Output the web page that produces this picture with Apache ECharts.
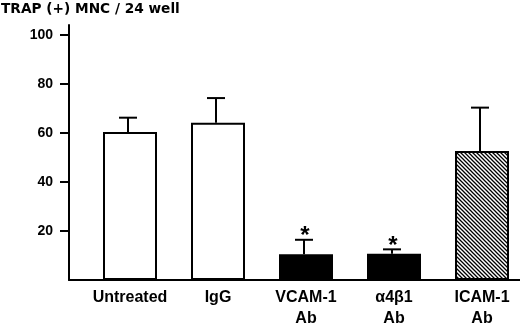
<!DOCTYPE html>
<html><head><meta charset="utf-8">
<script src="https://cdn.jsdelivr.net/npm/echarts@6/dist/echarts.min.js"></script>
<style>html,body{margin:0;padding:0;background:#fff}#c{width:520px;height:323px}</style>
</head><body><div id="c"></div>
<script>
const categories = ['Untreated', 'IgG', 'VCAM-1\nAb', 'α4β1\nAb', 'ICAM-1\nAb'];
const means = [60.4, 64.1, 10.5, 10.7, 52.6];
const errTops = [66.2, 74.2, 16.4, 12.5, 70.3];
const significant = [false, false, true, true, false];
const yTicks = [20, 40, 60, 80, 100];
const yTitle = 'TRAP (+) MNC / 24 well';

const FONT = 'Liberation Sans, Arial, sans-serif';
const TFONT = 'DejaVu Sans, sans-serif';

// hatch pattern
const pc = document.createElement('canvas'); pc.width = 4; pc.height = 4;
const g = pc.getContext('2d');
g.fillStyle = '#fff'; g.fillRect(0, 0, 4, 4);
g.strokeStyle = '#000'; g.lineWidth = 1.3;
g.beginPath(); g.moveTo(-1, -1); g.lineTo(5, 5);
g.moveTo(-1, 3); g.lineTo(1, 5);
g.moveTo(3, -1); g.lineTo(5, 1);
g.stroke();

function fillFor(i) {
  if (i < 2) return '#fff';
  if (i < 4) return '#000';
  return { image: pc, repeat: 'repeat' };
}

const chart = echarts.init(document.getElementById('c'), null, { renderer: 'canvas' });
chart.setOption({
  animation: false,
  backgroundColor: '#fff',
  title: {
    text: yTitle, left: 1, top: 2, padding: 0,
    textStyle: { fontSize: 13.7, fontWeight: 'bold', fontFamily: TFONT, color: '#000' }
  },
  grid: [
    { left: 69, right: 0, top: 25, bottom: 43, outerBoundsMode: 'none', containLabel: false },
    { left: 86, width: 440, top: 25, bottom: 43, outerBoundsMode: 'none', containLabel: false }
  ],
  xAxis: [
    { gridIndex: 0, type: 'value', min: 0, max: 1,
      axisLine: { show: true, lineStyle: { color: '#000', width: 2 } },
      axisTick: { show: false }, axisLabel: { show: false }, splitLine: { show: false } },
    { gridIndex: 1, type: 'category', data: categories,
      axisLine: { show: false }, axisTick: { show: false },
      axisLabel: { interval: 0, color: '#000', fontWeight: 'bold', fontSize: 16, fontFamily: FONT, lineHeight: 21, margin: 7 } }
  ],
  yAxis: [
    { gridIndex: 0, type: 'value', min: 0, max: 104, interval: 20,
      axisLine: { show: true, lineStyle: { color: '#000', width: 2 } },
      axisTick: { show: true, length: 9, customValues: yTicks, lineStyle: { color: '#000', width: 2 } },
      axisLabel: { customValues: yTicks, color: '#000', fontWeight: 'bold', fontSize: 14, fontFamily: FONT, margin: 16 },
      splitLine: { show: false } },
    { gridIndex: 1, type: 'value', min: 0, max: 104, show: false }
  ],
  series: [
    { type: 'bar', xAxisIndex: 1, yAxisIndex: 1, barWidth: 54,
      data: means.map((v, i) => ({ value: v, itemStyle: { color: fillFor(i), borderColor: '#000', borderWidth: 2 } })) },
    { type: 'custom', xAxisIndex: 1, yAxisIndex: 1, z: 3,
      data: categories.map((c, i) => [i, means[i], errTops[i], significant[i] ? 1 : 0]),
      renderItem: function (params, api) {
        const i = api.value(0);
        const base = api.coord([i, api.value(1)]);
        const top = api.coord([i, api.value(2)]);
        const x = base[0] - 2;
        const st = { stroke: '#000', lineWidth: 2 };
        const ch = [
          { type: 'line', shape: { x1: x, y1: base[1], x2: x, y2: top[1] }, style: st },
          { type: 'line', shape: { x1: x - 9, y1: top[1], x2: x + 9, y2: top[1] }, style: st }
        ];
        if (api.value(3)) {
          ch.push({ type: 'text', style: { text: '*', x: x + 1, y: top[1] + 9, align: 'center', verticalAlign: 'bottom',
            font: 'bold 24px ' + FONT, fill: '#000' } });
        }
        return { type: 'group', children: ch };
      } }
  ]
});
</script>
</body></html>
